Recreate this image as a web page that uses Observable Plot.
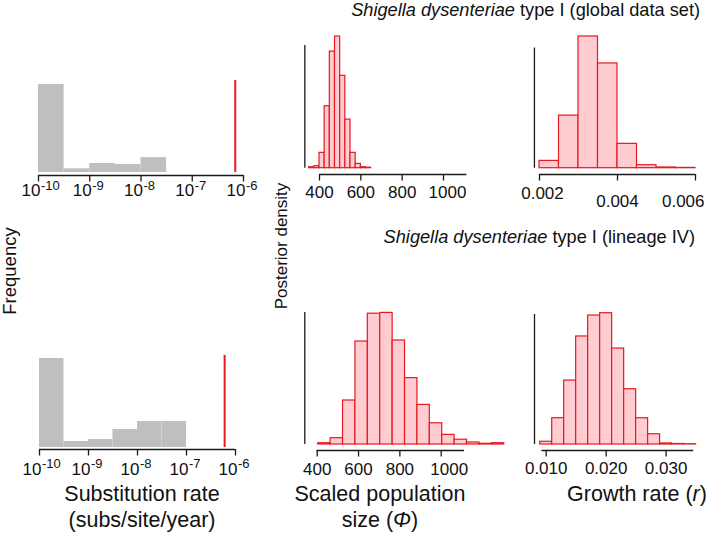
<!DOCTYPE html>
<html><head><meta charset="utf-8">
<script src="https://cdn.jsdelivr.net/npm/d3@7"></script>
<script src="https://cdn.jsdelivr.net/npm/@observablehq/plot@0.6"></script>
<style>
body{margin:0;background:#fff;font-family:"Liberation Sans",Arial,Helvetica,sans-serif;}
#fig{position:relative;width:709px;height:551px;overflow:hidden;background:#fff;}
#fig svg{position:absolute;overflow:visible;}
.lbl{position:absolute;white-space:nowrap;color:#111;line-height:1;}
</style></head><body><div id="fig"></div>
<script>
// ---------- data ----------
// substitution-rate priors (frequency) and estimated rate
const rateEdgesGlobal = [1e-10, 3.16e-10, 1e-9, 3.16e-9, 1e-8, 3.16e-8];
const rateFreqGlobal = [0.71, 0.03, 0.073, 0.065, 0.12];
const rateEstimateGlobal = [6.9e-7];
const rateEstimateGlobalHeight = 0.742;

const rateEdgesLineage = [1e-10, 3.16e-10, 1e-9, 3.16e-9, 1e-8, 3.16e-8, 1e-7];
const rateFreqLineage = [0.514, 0.035, 0.046, 0.104, 0.15, 0.15];
const rateEstimateLineage = [6.0e-7];
const rateEstimateLineageHeight = 0.532;

const rateTicks = [1e-10, 1e-9, 1e-8, 1e-7, 1e-6];
const rateTickExponents = ["-10", "-9", "-8", "-7", "-6"];

// scaled population size posterior (global)
const popEdgesGlobal = [350, 375, 400, 425, 450, 475, 500, 525, 550, 575, 600, 625, 650];
const popDensGlobal = [0.00008, 0.00016, 0.00125, 0.00505, 0.0095, 0.01073, 0.00753, 0.00396, 0.00125, 0.00035, 0.00008, 0.00004];
// growth rate posterior (global)
const growthEdgesGlobal = [0.002, 0.0025, 0.003, 0.0035, 0.004, 0.0045, 0.005, 0.0055, 0.006];
const growthDensGlobal = [45, 324, 811, 645, 150, 18.5, 4.3, 1.8];
// scaled population size posterior (lineage IV)
const popEdgesLineage = [405, 465, 525, 585, 645, 705, 765, 825, 885, 945, 1005, 1065, 1125, 1185, 1245, 1305];
const popDensLineage = [0.0000325, 0.000158, 0.0011, 0.002575, 0.00327, 0.00329, 0.0026, 0.00166, 0.00099, 0.00053, 0.00024, 0.00012, 0.00005, 0.0000175, 0.0000325];
// growth rate posterior (lineage IV)
const growthEdgesLineage = [0.009, 0.011, 0.013, 0.015, 0.017, 0.019, 0.021, 0.023, 0.025, 0.027, 0.029, 0.031, 0.033, 0.035];
const growthDensLineage = [2.1, 20.2, 49.2, 83.1, 99.2, 101, 73.8, 42.5, 20.2, 7.9, 0.8, 0.4, 0.2];

const popTicks = [400, 600, 800, 1000];
const growthTicksGlobal = [0.002, 0.004, 0.006];
const growthTicksLineage = [0.010, 0.020, 0.030];

// ---------- styling ----------
const RED = "#e5191f", PINK = "#ffcdd1", GREY = "#bfbfbf", INK = "#1a1a1a";
const FONT = '"Liberation Sans", Arial, Helvetica, sans-serif';
const TICKFONT = 17;
const fig = document.getElementById("fig");

function bins(edges, vals) { return vals.map((v, i) => ({x1: edges[i], x2: edges[i + 1], y: v})); }

function panel(cfg, marks) {
  const svg = Plot.plot({
    width: cfg.W, height: cfg.H,
    marginTop: 0, marginLeft: 0, marginRight: 0, marginBottom: cfg.T + cfg.H - cfg.axisY,
    x: {type: cfg.xType || "linear", domain: cfg.xDomain, range: cfg.xPx.map(v => v - cfg.L), axis: null},
    y: {domain: cfg.yDomain, range: cfg.yPx.map(v => v - cfg.T), axis: null},
    style: {fontFamily: FONT, overflow: "visible", background: "transparent"},
    marks: [
      ...marks,
      Plot.ruleY([cfg.yDomain[0]], {x1: cfg.axisLine[0], x2: cfg.axisLine[1], dy: cfg.axisY - cfg.yPx[0], stroke: INK, strokeWidth: 1.3}),
      Plot.axisX(cfg.ticks, {tickSize: 6.5, tickFormat: () => "", label: null, stroke: INK, strokeWidth: 1.3})
    ]
  });
  svg.style.left = cfg.L + "px";
  svg.style.top = cfg.T + "px";
  fig.appendChild(svg);
}

function vline(cfg) {
  return Plot.ruleX([cfg.vlineX], {y1: 0, y2: cfg.vlineTop, stroke: INK, strokeWidth: 1.3});
}

function numLabels(groups, fmt) {
  return groups.map(g => Plot.text(g.values, {x: d => d, text: fmt, frameAnchor: "bottom", dy: g.dy, dx: g.dx || 0,
    textAnchor: g.anchor || "middle", lineAnchor: "middle", fontSize: TICKFONT, fill: "#111"}));
}

function powLabels(dyBase) {
  return [
    Plot.text(rateTicks, {x: d => d, text: () => "10", frameAnchor: "bottom", dy: dyBase, dx: 2, textAnchor: "end", lineAnchor: "middle", fontSize: TICKFONT, fill: "#111"}),
    Plot.text(rateTicks, {x: d => d, text: (d, i) => rateTickExponents[i], frameAnchor: "bottom", dy: dyBase - 5.5, dx: 2.5, textAnchor: "start", lineAnchor: "middle", fontSize: 13, fill: "#111"})
  ];
}

// ---------- panels ----------
const A = {L: 15, T: 70, W: 255, H: 135, xType: "log", xDomain: [1e-10, 1e-6], xPx: [38, 243], yDomain: [0, 0.71], yPx: [172, 84], axisY: 175, axisLine: [1e-10, 1e-6], ticks: rateTicks};
panel(A, [
  Plot.rectY(bins(rateEdgesGlobal, rateFreqGlobal), {x1: "x1", x2: "x2", y: "y", fill: GREY}),
  Plot.ruleX(rateEstimateGlobal, {y1: 0, y2: rateEstimateGlobalHeight, stroke: RED, strokeWidth: 2}),
  ...powLabels(15.5)
]);

const B = {L: 295, T: 25, W: 200, H: 180, xDomain: [400, 1000], xPx: [319, 443], yDomain: [0, 0.01], yPx: [167.7, 45], axisY: 174, axisLine: [400, 1113], ticks: popTicks, vlineX: 329, vlineTop: 0.01};
panel(B, [
  Plot.rectY(bins(popEdgesGlobal, popDensGlobal), {x1: "x1", x2: "x2", y: "y", fill: PINK, stroke: RED, strokeWidth: 1.2}),
  vline(B),
  ...numLabels([{values: popTicks.slice(0, 3), dy: 18.5}, {values: popTicks.slice(3), dy: 18.5, dx: 4}], d => String(d))
]);

const C = {L: 515, T: 25, W: 194, H: 185, xDomain: [0.002, 0.006], xPx: [539, 695], yDomain: [0, 740], yPx: [167.7, 47.5], axisY: 174, axisLine: [0.002, 0.006], ticks: growthTicksGlobal, vlineX: 0.00187, vlineTop: 740};
panel(C, [
  Plot.rectY(bins(growthEdgesGlobal, growthDensGlobal), {x1: "x1", x2: "x2", y: "y", fill: PINK, stroke: RED, strokeWidth: 1.2}),
  vline(C),
  ...numLabels([{values: growthTicksGlobal.slice(0, 1), dy: 19, dx: 3}, {values: growthTicksGlobal.slice(1, 2), dy: 27},
                {values: growthTicksGlobal.slice(2), dy: 27, dx: 9, anchor: "end"}], d => d.toFixed(3))
]);

const D = {L: 15, T: 345, W: 255, H: 140, xType: "log", xDomain: [1e-10, 1e-6], xPx: [39, 235], yDomain: [0, 0.514], yPx: [447, 358], axisY: 449, axisLine: [1e-10, 1e-6], ticks: rateTicks};
panel(D, [
  Plot.rectY(bins(rateEdgesLineage, rateFreqLineage), {x1: "x1", x2: "x2", y: "y", fill: GREY}),
  Plot.ruleX(rateEstimateLineage, {y1: 0, y2: rateEstimateLineageHeight, stroke: RED, strokeWidth: 2}),
  ...powLabels(20)
]);

const E = {L: 295, T: 295, W: 220, H: 190, xDomain: [400, 1000], xPx: [316.7, 440.7], yDomain: [0, 0.0033], yPx: [444, 312], axisY: 450, axisLine: [400, 1113], ticks: popTicks, vlineX: 340, vlineTop: 0.0033};
panel(E, [
  Plot.rectY(bins(popEdgesLineage, popDensLineage), {x1: "x1", x2: "x2", y: "y", fill: PINK, stroke: RED, strokeWidth: 1.2}),
  vline(E),
  ...numLabels([{values: popTicks.slice(0, 3), dy: 19.5}, {values: popTicks.slice(3), dy: 19.5, dx: 8}], d => String(d))
]);

const F = {L: 515, T: 295, W: 194, H: 190, xDomain: [0.01, 0.03], xPx: [545.7, 665.6], yDomain: [0, 100], yPx: [444, 314], axisY: 450, axisLine: [0.0093, 0.0346], ticks: growthTicksLineage, vlineX: 0.00805, vlineTop: 100};
panel(F, [
  Plot.rectY(bins(growthEdgesLineage, growthDensLineage), {x1: "x1", x2: "x2", y: "y", fill: PINK, stroke: RED, strokeWidth: 1.2}),
  vline(F),
  ...numLabels([{values: growthTicksLineage, dy: 18.5}], d => d.toFixed(3))
]);

// ---------- page text ----------
function addText(html, x, y, size, anchor, rotate) {
  const d = document.createElement("div");
  d.className = "lbl";
  d.innerHTML = html;
  d.style.fontSize = size + "px";
  d.style.left = x + "px";
  d.style.top = y + "px";
  const tx = anchor === "middle" ? "-50%" : anchor === "end" ? "-100%" : "0";
  d.style.transform = `translate(${tx},-50%)` + (rotate ? ` rotate(${rotate}deg)` : "");
  if (anchor === "middle") d.style.textAlign = "center";
  fig.appendChild(d);
}
addText("<i>Shigella dysenteriae</i> type I (global data set)", 700, 10, 18.2, "end");
addText("<i>Shigella dysenteriae</i> type I (lineage IV)", 695, 237, 18.2, "end");
addText("Frequency", 10, 271, 18.5, "middle", -90);
addText("Posterior density", 281, 246, 17, "middle", -90);
addText("Substitution rate", 142, 495, 21.5, "middle");
addText("(subs/site/year)", 142, 521, 21.5, "middle");
addText("Scaled population", 380, 495, 21.5, "middle");
addText("size (<i>Φ</i>)", 380, 521, 21.5, "middle");
addText("Growth rate (<i>r</i>)", 637, 495, 21.5, "middle");
</script></body></html>
